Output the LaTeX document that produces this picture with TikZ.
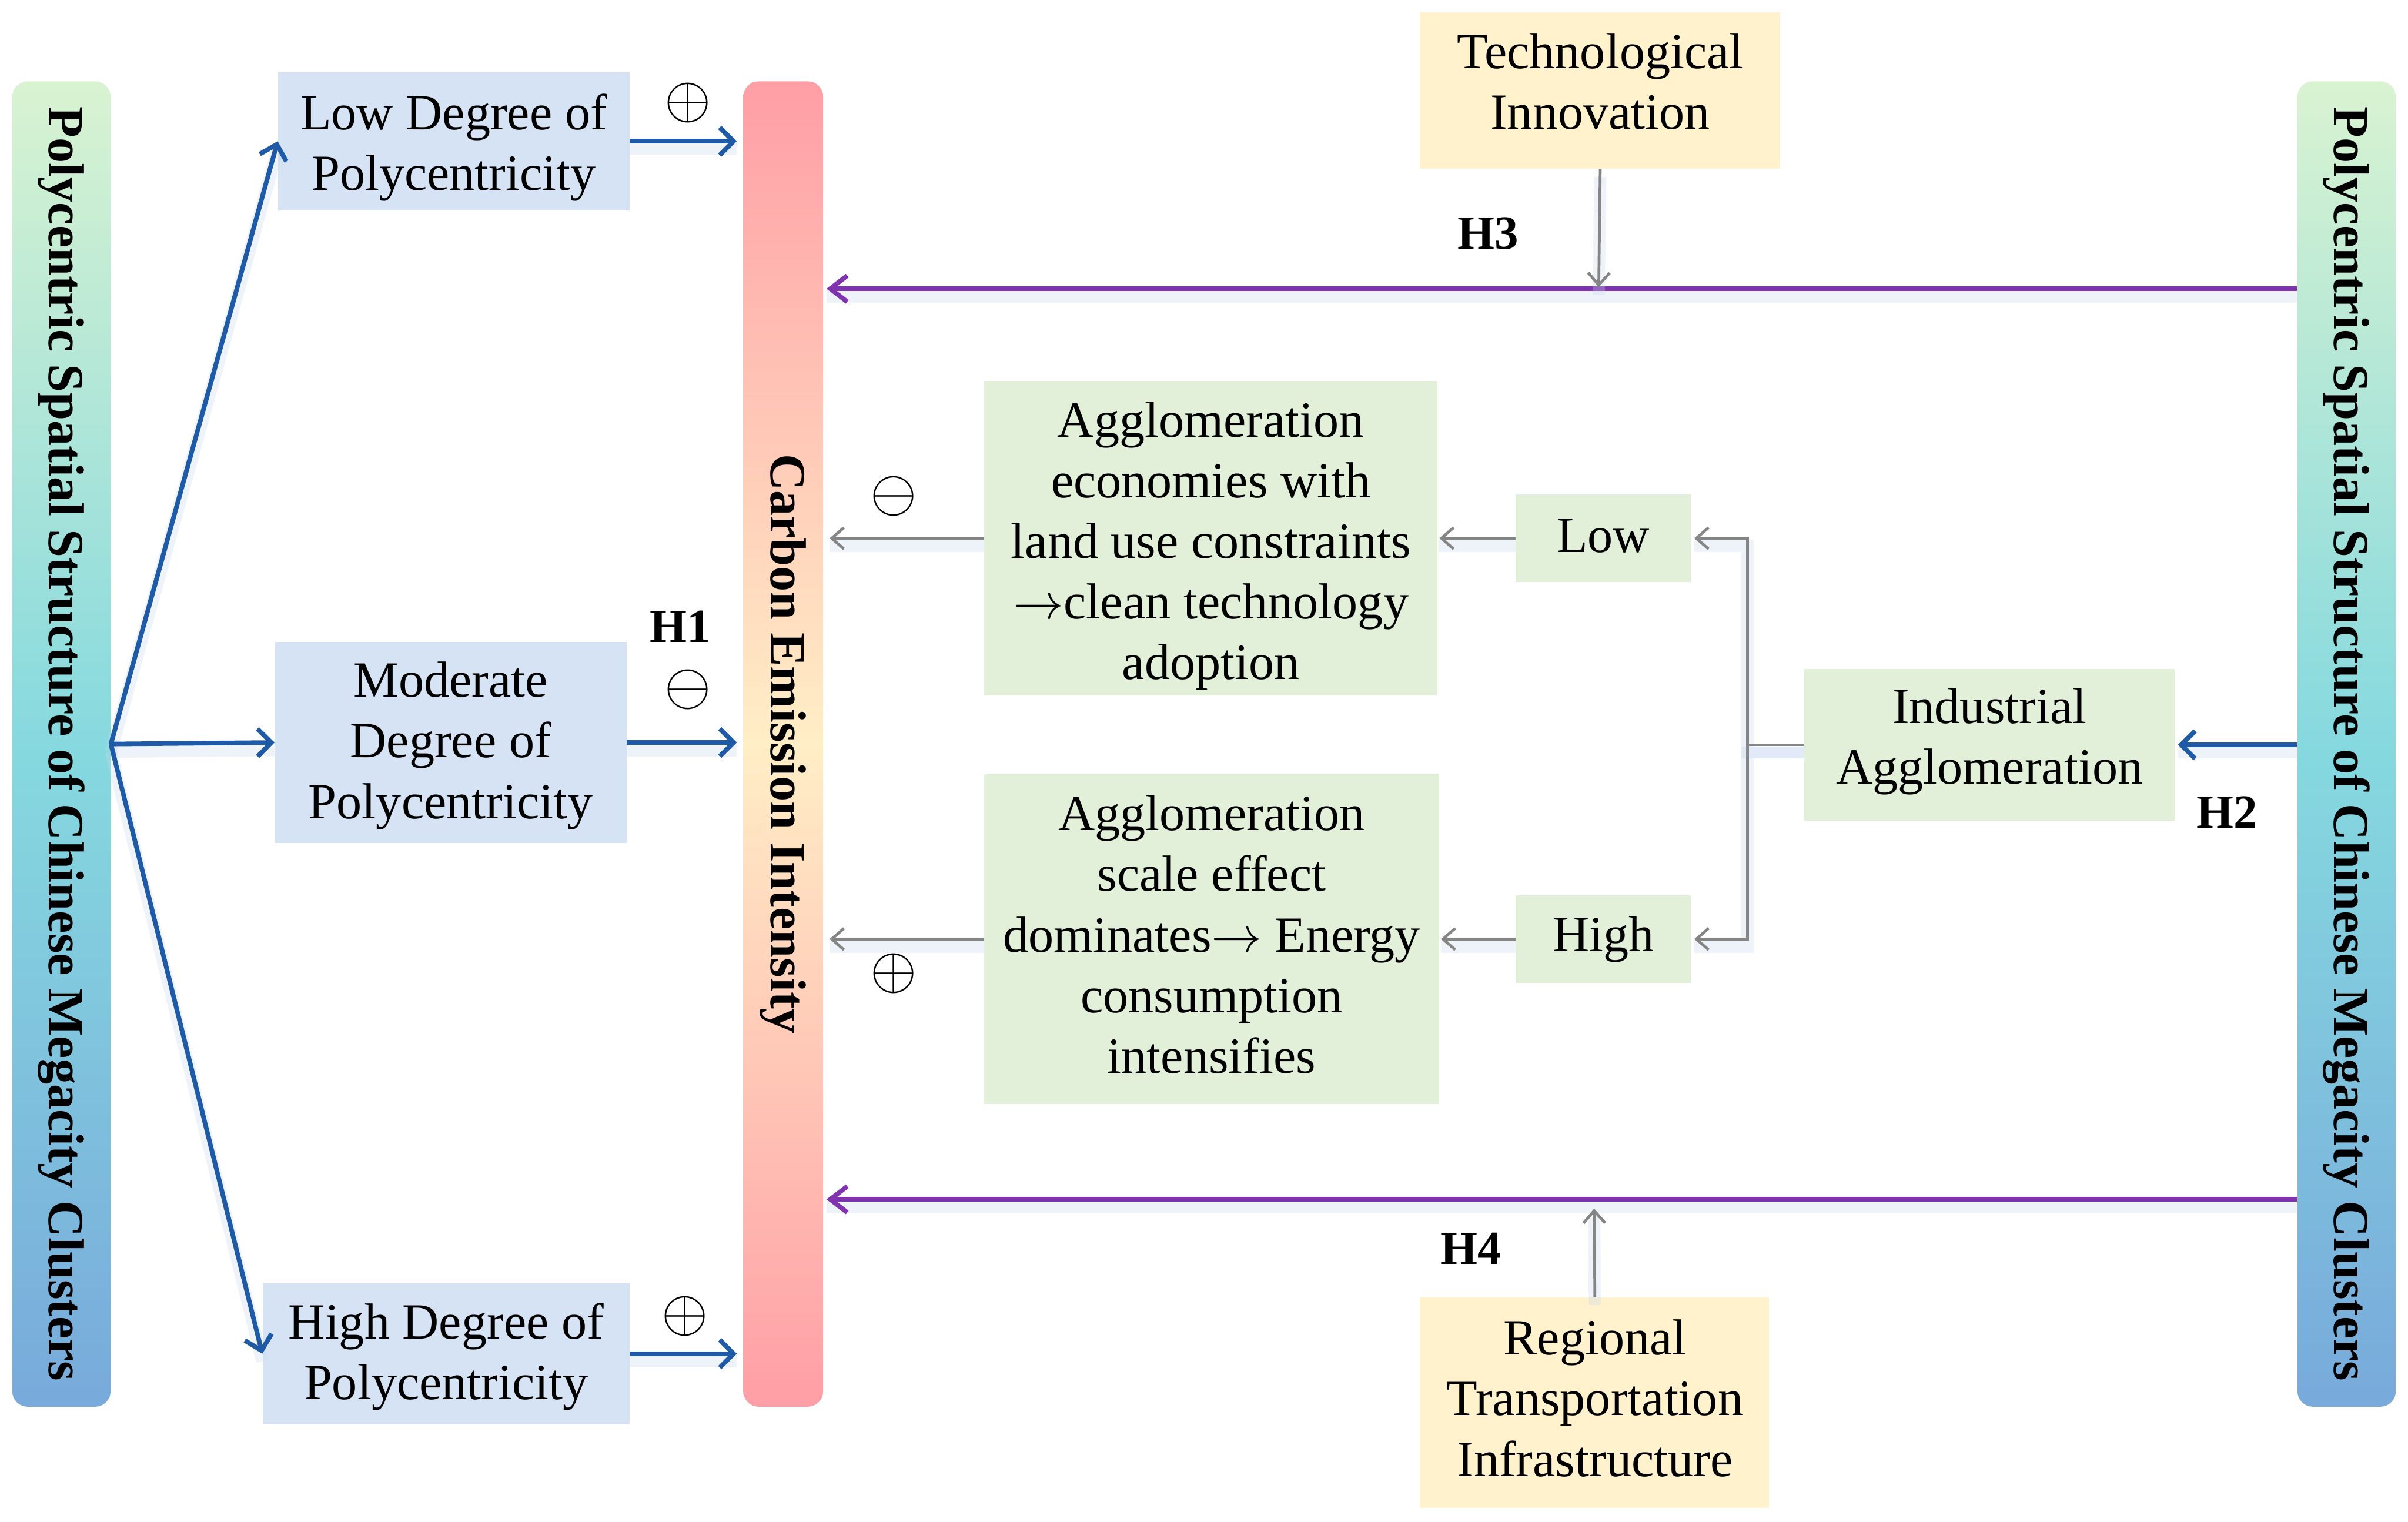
\documentclass[tikz,border=0pt]{standalone}
\usepackage{fontspec}
\usepackage{graphicx}
\setmainfont{Liberation Serif}
\usetikzlibrary{arrows.meta}
\definecolor{boxblue}{HTML}{D6E3F4}
\definecolor{boxgreen}{HTML}{E2F0D9}
\definecolor{boxyellow}{HTML}{FFF2CC}
\definecolor{arrowblue}{HTML}{1F5AA6}
\definecolor{purp}{HTML}{8033AE}
\definecolor{arrowgray}{HTML}{858585}
\definecolor{glowcol}{HTML}{C8D7EF}
\definecolor{barTop}{HTML}{D9F3D1}
\definecolor{barMid}{HTML}{86D9DF}
\definecolor{barBot}{HTML}{78AADB}
\definecolor{cTop}{HTML}{FF9EA6}
\definecolor{cMid}{HTML}{FFEEC6}
\newcommand{\bigarrow}{\scalebox{3.3}{\normalsize$\rightarrow$}}
\newcommand{\signsym}[1]{\scalebox{3.9}{\normalsize$#1$}}
\begin{document}
\begin{tikzpicture}[x=1pt,y=-1pt,
  txt/.style={font=\fontsize{33}{39.5}\selectfont, align=center, inner sep=0pt},
  bluebox/.style={inner sep=0pt, fill=boxblue},
  greenbox/.style={inner sep=0pt, fill=boxgreen},
  yellowbox/.style={inner sep=0pt, fill=boxyellow},
  sidebar/.style={rounded corners=10pt, top color=barTop, bottom color=barBot, middle color=barMid, minimum width=64pt, minimum height=863pt, inner sep=0pt},
  carbar/.style={rounded corners=10pt, top color=cTop, bottom color=cTop, middle color=cMid, minimum width=52pt, minimum height=863pt, inner sep=0pt},
  bartext/.style={font=\fontsize{33}{39.5}\selectfont\bfseries, rotate=-90, inner sep=0pt},
  hlabel/.style={font=\fontsize{31}{36}\selectfont\bfseries, inner sep=0pt},
  sign/.style={inner sep=0pt},
  glow/.style={preaction={draw=glowcol, line width=8pt, draw opacity=0.3, arrows=-, transform canvas={yshift=-5pt}}},
  bluearrow/.style={glow, draw=arrowblue, line width=3pt, -{Straight Barb[length=9pt,width=18pt]}},
  grayarrow/.style={glow, draw=arrowgray, line width=1.8pt, -{Straight Barb[length=8pt,width=14pt]}},
  purparrow/.style={glow, draw=purp, line width=3pt, -{Straight Barb[length=11pt,width=17pt]}}
]
\useasboundingbox (0,0) rectangle (1568,991);

% side bars
\node[sidebar] (lbar) at (40,484.5) {};
\node[bartext] at (lbar.center) {Polycentric Spatial Structure of Chinese Megacity Clusters};
\node[sidebar] (rbar) at (1528,484.5) {};
\node[bartext] at (rbar.center) {Polycentric Spatial Structure of Chinese Megacity Clusters};
\node[carbar] (cbar) at (510,484.5) {};
\node[bartext] at (cbar.center) {Carbon Emission Intensity};

% left boxes
\node[bluebox, minimum width=229pt, minimum height=90pt] (low) at (295.5,92) {};
\node[txt, yshift=-4pt] at (low.center) {Low Degree of\\Polycentricity};
\node[bluebox, minimum width=229pt, minimum height=131pt] (mod) at (293.5,483.5) {};
\node[txt, yshift=-2pt] at (mod.center) {Moderate\\Degree of\\Polycentricity};
\node[bluebox, minimum width=239pt, minimum height=92pt] (high) at (290.5,881.5) {};
\node[txt, yshift=-2pt] at (high.center) {High Degree of\\Polycentricity};

% moderators
\node[yellowbox, minimum width=234pt, minimum height=102pt] (tech) at (1042,59) {};
\node[txt, yshift=6pt] at (tech.center) {Technological\\Innovation};
\node[yellowbox, minimum width=227pt, minimum height=137pt] (reg) at (1038.5,913.5) {};
\node[txt, yshift=3pt] at (reg.center) {Regional\\Transportation\\Infrastructure};

% mechanism boxes
\node[greenbox, minimum width=295pt, minimum height=205pt] (ag1) at (788.5,350.5) {};
\node[txt, yshift=-5pt] at (ag1.center) {Agglomeration\\economies with\\land use constraints\\\bigarrow clean technology\\adoption};
\node[greenbox, minimum width=296pt, minimum height=215pt] (ag2) at (789,611.5) {};
\node[txt, yshift=3pt] at (ag2.center) {Agglomeration\\scale effect\\dominates\bigarrow\ Energy\\consumption\\intensifies};
\node[greenbox, minimum width=114pt, minimum height=57pt] (lowl) at (1044,350.5) {};
\node[txt, yshift=1.5pt] at (lowl.center) {Low};
\node[greenbox, minimum width=114pt, minimum height=57pt] (highl) at (1044,611.5) {};
\node[txt] at (highl.center) {High};
\node[greenbox, minimum width=241pt, minimum height=99pt] (ia) at (1295.5,485) {};
\node[txt, yshift=2pt] at (ia.center) {Industrial\\Agglomeration};

% coordinates on the purple lines
\coordinate (p3) at (1041,188);
\coordinate (p4) at (1038,781);

% blue fan arrows
\draw[bluearrow] (lbar.east) -- (low.west);
\draw[bluearrow] (lbar.east) -- (mod.west);
\draw[bluearrow] (lbar.east) -- (high.west);
\draw[bluearrow, shorten >=4pt] (low.east) -- (low.east -| cbar.west);
\draw[bluearrow, shorten >=4pt] (mod.east) -- (mod.east -| cbar.west);
\draw[bluearrow, shorten >=4pt] (high.east) -- (high.east -| cbar.west);

% purple lines
\draw[purparrow, shorten >=2pt] (rbar.west |- p3) -- (cbar.east |- p3);
\draw[purparrow, shorten >=2pt] (rbar.west |- p4) -- (cbar.east |- p4);
\draw[grayarrow, shorten >=1pt] (tech.south) -- (p3);
\draw[grayarrow, shorten >=6pt] (reg.north) -- (p4);

% gray mechanism arrows
\draw[grayarrow, shorten >=4pt] (ag1.west) -- (ag1.west -| cbar.east);
\draw[grayarrow, shorten >=4pt] (ag2.west) -- (ag2.west -| cbar.east);
\draw[grayarrow, shorten >=1pt] (lowl.west) -- (ag1.east);
\draw[grayarrow, shorten >=1pt] (highl.west) -- (ag2.east);
\draw[grayarrow, shorten >=2pt] (ia.west) -- ++(-37,0) |- (lowl.east);
\draw[grayarrow, shorten >=2pt] (ia.west) -- ++(-37,0) |- (highl.east);
\draw[bluearrow, shorten >=2pt] (rbar.west |- ia.east) -- (ia.east);

% labels
\node[hlabel] (h1) at (443,408) {H1};
\node[hlabel] (h2) at (1450,529) {H2};
\node[hlabel] (h3) at (969,152) {H3};
\node[hlabel] (h4) at (958,813) {H4};
\node[sign] (s1) at (448,67) {\signsym{\oplus}};
\node[sign] (s2) at (448,449) {\signsym{\ominus}};
\node[sign] (s3) at (446,857) {\signsym{\oplus}};
\node[sign] (s4) at (582,323) {\signsym{\ominus}};
\node[sign] (s5) at (582,634) {\signsym{\oplus}};
\end{tikzpicture}
\end{document}
